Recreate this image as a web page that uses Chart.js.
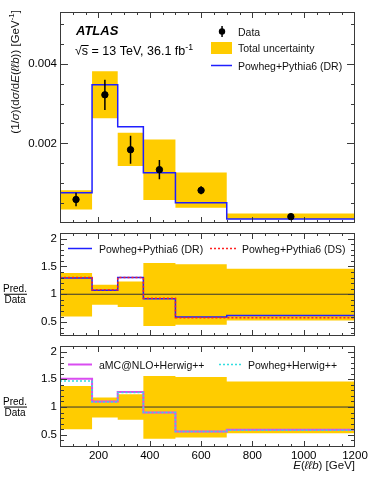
<!DOCTYPE html>
<html>
<head>
<meta charset="utf-8">
<script src="https://cdn.jsdelivr.net/npm/chart.js@4.4.1/dist/chart.umd.min.js"></script>
<style>
  body { margin: 0; background: #fff; width: 374px; height: 484px; position: relative; overflow: hidden; }
  canvas { position: absolute; left: 0; top: 0; }
</style>
</head>
<body>
<canvas id="topPanel" width="374" height="484"></canvas>
<canvas id="midPanel" width="374" height="484"></canvas>
<canvas id="botPanel" width="374" height="484"></canvas>
<script>
// bin edges in E(llb) [GeV]
var binEdges = [50, 175, 275, 375, 500, 700, 1200];

// top panel: normalised cross-section
var dataValues = [0.00059, 0.00322, 0.00184, 0.00134, 0.00082, 0.00016];
var dataErrors = [0.00017, 0.00038, 0.00035, 0.00024, 0.00010, 0.00002];
var totalUncUp = [0.00082, 0.00381, 0.00227, 0.00210, 0.00127, 0.00024];
var totalUncDown = [0.00034, 0.00263, 0.00143, 0.00058, 0.00038, 0.00010];
var powPy6DR = [0.00076, 0.00347, 0.00242, 0.00126, 0.00051, 0.00010];

// ratio panels: pred / data
var ratioUncUp = [1.38, 1.17, 1.23, 1.56, 1.54, 1.46];
var ratioUncDown = [0.60, 0.81, 0.77, 0.43, 0.45, 0.53];
var ratioDR = [1.29, 1.07, 1.30, 0.92, 0.59, 0.62];
var ratioDS = [1.30, 1.08, 1.30, 0.93, 0.58, 0.58];
var ratioAMC = [1.51, 1.10, 1.27, 0.90, 0.56, 0.59];
var ratioPowHw = [1.47, 1.09, 1.26, 0.90, 0.56, 0.58];

// tick labels
var topYTicks = [0.002, 0.004];
var ratioYTicks = [0.5, 1, 1.5, 2];
var xTicks = [200, 400, 600, 800, 1000, 1200];

var fontFamily = "'Liberation Sans', Arial, Helvetica, sans-serif";
Chart.defaults.font.family = fontFamily;
Chart.defaults.color = '#000';
Chart.defaults.animation = false;

var bandColor = '#ffcc00';

function steps(vals) {
  return binEdges.map(function (e, i) {
    return { x: e, y: vals[Math.min(i, vals.length - 1)] };
  });
}

function centers() {
  var c = [];
  for (var i = 0; i < binEdges.length - 1; i++) c.push((binEdges[i] + binEdges[i + 1]) / 2);
  return c;
}

function fontFor(style, size) {
  var f = '';
  if (style.indexOf('i') >= 0) f += 'italic ';
  if (style.indexOf('b') >= 0) f += 'bold ';
  return f + size + 'px ' + fontFamily;
}

// draw text made of parts [text, style]; style may contain i, b, s (superscript)
function richText(ctx, parts, x, y, size, align) {
  var total = 0;
  parts.forEach(function (p) {
    var sz = p[1].indexOf('s') >= 0 ? size * 0.7 : size;
    ctx.font = fontFor(p[1], sz);
    total += ctx.measureText(p[0]).width;
  });
  var cx = align === 'right' ? x - total : x;
  ctx.textBaseline = 'alphabetic';
  ctx.textAlign = 'left';
  parts.forEach(function (p) {
    var sup = p[1].indexOf('s') >= 0;
    var sz = sup ? size * 0.7 : size;
    ctx.font = fontFor(p[1], sz);
    ctx.fillText(p[0], cx, sup ? y - size * 0.42 : y);
    cx += ctx.measureText(p[0]).width;
  });
  return total;
}

function lineDs(label, vals, color, width, dash, order) {
  return {
    label: label, data: steps(vals), stepped: 'before', showLine: true,
    borderColor: color, borderWidth: width, borderDash: dash || [],
    pointRadius: 0, fill: false, order: order
  };
}

function bandDs(vals, fillNext, order) {
  return {
    data: steps(vals), stepped: 'before', showLine: true,
    borderColor: 'rgba(0,0,0,0)', borderWidth: 0, pointRadius: 0,
    backgroundColor: bandColor, fill: fillNext ? '+1' : false, order: order
  };
}

function makeScales(yMin, yMax, yTickVals, fmt, showX) {
  return {
    x: {
      type: 'linear', min: 50, max: 1200, display: showX,
      grid: { display: false, drawTicks: false }, border: { display: false },
      afterBuildTicks: function (s) { s.ticks = xTicks.map(function (v) { return { value: v }; }); },
      afterFit: function (s) { if (showX) s.height = 30; },
      ticks: { padding: 2, maxRotation: 0, autoSkip: false, font: { size: 11.5 }, color: '#000',
               callback: function (v) { return String(v); } }
    },
    y: {
      type: 'linear', min: yMin, max: yMax,
      grid: { display: false, drawTicks: false }, border: { display: false },
      afterBuildTicks: function (s) { s.ticks = yTickVals.map(function (v) { return { value: v }; }); },
      afterFit: function (s) { s.width = 60; },
      ticks: { padding: 3, autoSkip: false, font: { size: 11.5 }, color: '#000', callback: fmt }
    }
  };
}

// ROOT style frame with inward ticks on all four sides
function framePlugin(yStep, yMajor, yLen, xLen) {
  return {
    id: 'frame',
    afterDatasetsDraw: function (chart) {
      var ctx = chart.ctx, a = chart.chartArea, xs = chart.scales.x, ys = chart.scales.y;
      ctx.save();
      ctx.strokeStyle = '#3a3a3a';
      ctx.lineWidth = 1;
      ctx.beginPath();
      for (var v = 100; v < 1200; v += 50) {
        var px = Math.round(xs.getPixelForValue(v)) + 0.5;
        var l = v % 200 === 0 ? xLen[0] : xLen[1];
        ctx.moveTo(px, a.bottom); ctx.lineTo(px, a.bottom - l);
        ctx.moveTo(px, a.top); ctx.lineTo(px, a.top + l);
      }
      for (var k = Math.ceil(ys.min / yStep + 1e-6); k * yStep < ys.max; k++) {
        var val = k * yStep;
        var major = yMajor.some(function (m) { return Math.abs(m - val) < yStep / 10; });
        var py = Math.round(ys.getPixelForValue(val)) + 0.5;
        var ll = major ? yLen[0] : yLen[1];
        ctx.moveTo(a.left, py); ctx.lineTo(a.left + ll, py);
        ctx.moveTo(a.right, py); ctx.lineTo(a.right - ll, py);
      }
      ctx.stroke();
      ctx.strokeRect(Math.round(a.left) + 0.5, Math.round(a.top) + 0.5,
        Math.round(a.right - a.left) - 1, Math.round(a.bottom - a.top) - 1);
      ctx.restore();
    }
  };
}

function legendLine(ctx, x1, x2, y, color, width, dash) {
  ctx.save();
  ctx.strokeStyle = color; ctx.lineWidth = width; ctx.setLineDash(dash || []);
  ctx.beginPath(); ctx.moveTo(x1, y); ctx.lineTo(x2, y); ctx.stroke();
  ctx.restore();
}

// ---------- top panel ----------
var errorBars = {
  id: 'errorBars',
  afterDatasetsDraw: function (chart) {
    var ctx = chart.ctx, xs = chart.scales.x, ys = chart.scales.y;
    var c = centers();
    ctx.save();
    ctx.strokeStyle = '#000'; ctx.lineWidth = 1.5;
    ctx.beginPath();
    dataValues.forEach(function (v, i) {
      var px = xs.getPixelForValue(c[i]);
      ctx.moveTo(px, ys.getPixelForValue(v + dataErrors[i]));
      ctx.lineTo(px, ys.getPixelForValue(v - dataErrors[i]));
    });
    ctx.stroke();
    ctx.restore();
  }
};

var topText = {
  id: 'topText',
  afterDraw: function (chart) {
    var ctx = chart.ctx;
    ctx.save();
    ctx.fillStyle = '#000';
    richText(ctx, [['ATLAS', 'bi']], 76, 35, 13, 'left');
    var w = richText(ctx, [['\u221A', '']], 75, 55, 12.5, 'left');
    ctx.font = fontFor('', 12.5);
    var sw = ctx.measureText('s').width;
    ctx.fillRect(75 + w - 0.5, 45, sw + 1, 1);
    richText(ctx, [['s = 13 TeV, 36.1 fb', ''], ['-1', 's']], 75 + w, 55, 12.5, 'left');

    // legend
    ctx.beginPath(); ctx.arc(222, 31.5, 3.2, 0, Math.PI * 2); ctx.fill();
    ctx.fillRect(221.3, 26, 1.5, 11);
    ctx.fillStyle = bandColor; ctx.fillRect(211, 42, 21, 12);
    legendLine(ctx, 211, 232, 65.5, '#1f1fff', 1.5);
    ctx.fillStyle = '#111';
    richText(ctx, [['Data', '']], 238, 35.5, 10.5, 'left');
    richText(ctx, [['Total uncertainty', '']], 238, 52, 10.5, 'left');
    richText(ctx, [['Powheg+Pythia6 (DR)', '']], 238, 69.5, 10.5, 'left');

    // y axis title, rotated, aligned to top
    ctx.translate(19, 10);
    ctx.rotate(-Math.PI / 2);
    richText(ctx, [['(1/', ''], ['\u03C3', 'i'], [')(d', ''], ['\u03C3', 'i'], ['/d', ''], ['E', 'i'],
      ['(', ''], ['\u2113\u2113b', 'i'], [')) [GeV', ''], ['-1', 's'], [']', '']], 0, 0, 11.5, 'right');
    ctx.restore();
  }
};

new Chart(document.getElementById('topPanel'), {
  type: 'scatter',
  data: {
    datasets: [
      {
        label: 'Data',
        data: centers().map(function (c, i) { return { x: c, y: dataValues[i] }; }),
        backgroundColor: '#000', borderColor: '#000', pointRadius: 3.2, showLine: false, order: 0
      },
      lineDs('Powheg+Pythia6 (DR)', powPy6DR, '#1f1fff', 1.5, null, 1),
      bandDs(totalUncUp, true, 3),
      bandDs(totalUncDown, false, 4)
    ]
  },
  options: {
    responsive: false,
    devicePixelRatio: 1,
    layout: { padding: { left: 0, right: 19, top: 12, bottom: 261 } },
    plugins: { legend: { display: false }, tooltip: { enabled: false } },
    scales: makeScales(0, 0.0053, topYTicks, function (v) { return v.toFixed(3); }, false)
  },
  plugins: [errorBars, framePlugin(0.0005, [0.002, 0.004], [8, 4], [6, 3]), topText]
});

// ---------- ratio panels ----------
function ratioLabel(ctx, yBar) {
  ctx.save();
  ctx.fillStyle = '#000';
  ctx.font = fontFor('', 10);
  ctx.textAlign = 'center';
  ctx.textBaseline = 'alphabetic';
  ctx.fillText('Pred.', 15, yBar - 2);
  ctx.fillText('Data', 15, yBar + 9);
  ctx.fillRect(4, yBar - 0.5, 23, 1);
  ctx.restore();
}

function ratioChart(id, top, bottom, yMin, lines, legendFn) {
  var ds = lines.slice();
  ds.push({
    data: [{ x: 50, y: 1 }, { x: 1200, y: 1 }], borderColor: '#333', borderWidth: 1,
    pointRadius: 0, fill: false, showLine: true, order: 2
  });
  ds.push(bandDs(ratioUncUp, true, 3));
  ds.push(bandDs(ratioUncDown, false, 4));
  var showX = id === 'botPanel';
  return new Chart(document.getElementById(id), {
    type: 'scatter',
    data: { datasets: ds },
    options: {
      responsive: false,
      devicePixelRatio: 1,
      layout: { padding: { left: 0, right: 19, top: top, bottom: bottom } },
      plugins: { legend: { display: false }, tooltip: { enabled: false } },
      scales: makeScales(yMin, 2.1, ratioYTicks, function (v) { return String(v); }, showX)
    },
    plugins: [framePlugin(0.1, ratioYTicks, [7, 4], [6, 3]), { id: 'ratioText', afterDraw: legendFn }]
  });
}

ratioChart('midPanel', 233, 148, 0.25, [
  lineDs('Powheg+Pythia6 (DS)', ratioDS, '#ff2020', 1.5, [2, 2], 0),
  lineDs('Powheg+Pythia6 (DR)', ratioDR, '#1f1fff', 1.5, null, 1)
], function (chart) {
  var ctx = chart.ctx;
  legendLine(ctx, 68, 92, 248.5, '#1f1fff', 1.5);
  legendLine(ctx, 210, 237, 248.5, '#ff2020', 1.5, [2, 2]);
  ctx.save();
  ctx.fillStyle = '#111';
  richText(ctx, [['Powheg+Pythia6 (DR)', '']], 99, 252.5, 10.5, 'left');
  richText(ctx, [['Powheg+Pythia6 (DS)', '']], 242, 252.5, 10.5, 'left');
  ctx.restore();
  ratioLabel(ctx, chart.scales.y.getPixelForValue(1));
});

ratioChart('botPanel', 346, 7, 0.28, [
  lineDs('Powheg+Herwig++', ratioPowHw, '#33dde0', 1.5, [2, 2], 0),
  lineDs('aMC@NLO+Herwig++', ratioAMC, '#d94cf0', 2, null, 1)
], function (chart) {
  var ctx = chart.ctx;
  legendLine(ctx, 68, 92, 364.5, '#d94cf0', 2);
  legendLine(ctx, 219, 241, 364.5, '#33dde0', 1.5, [2, 2]);
  ctx.save();
  ctx.fillStyle = '#111';
  richText(ctx, [['aMC@NLO+Herwig++', '']], 99, 368.5, 10.5, 'left');
  richText(ctx, [['Powheg+Herwig++', '']], 248, 368.5, 10.5, 'left');
  richText(ctx, [['E', 'i'], ['(', ''], ['\u2113\u2113b', 'i'], [') [GeV]', '']], 355, 469, 11.5, 'right');
  ctx.restore();
  ratioLabel(ctx, chart.scales.y.getPixelForValue(1));
});
</script>
</body>
</html>
